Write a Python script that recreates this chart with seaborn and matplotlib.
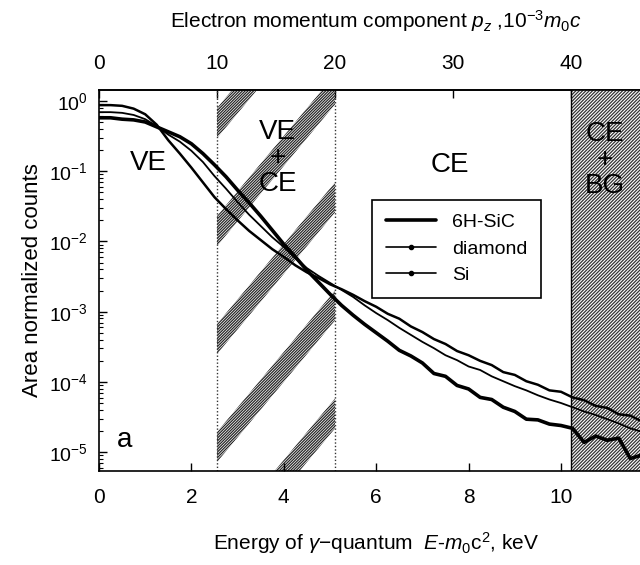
import numpy as np
import pandas as pd
import matplotlib
matplotlib.use("Agg")
import matplotlib.pyplot as plt
from matplotlib.lines import Line2D
from matplotlib.patches import Polygon
from matplotlib.ticker import LogLocator, NullFormatter
import seaborn as sns

# Energia do gama (keV) e contagens normalizadas (log10)
energy_kev = [0.0, 0.25, 0.5, 0.75, 1.0, 1.25, 1.5, 1.75, 2.0, 2.25, 2.5, 2.75,
              3.0, 3.25, 3.5, 3.75, 4.0, 4.25, 4.5, 4.75, 5.0, 5.25, 5.5, 5.75,
              6.0, 6.25, 6.5, 6.75, 7.0, 7.25, 7.5, 7.75, 8.0, 8.25, 8.5, 8.75,
              9.0, 9.25, 9.5, 9.75, 10.0, 10.25, 10.5, 10.75, 11.0, 11.25, 11.5, 11.75]

sic_log10 = [-0.24, -0.24, -0.26, -0.27, -0.30, -0.37, -0.44, -0.51, -0.61, -0.75, -0.91, -1.08,
             -1.27, -1.45, -1.64, -1.84, -2.04, -2.22, -2.41, -2.58, -2.75, -2.91, -3.05, -3.18,
             -3.30, -3.42, -3.55, -3.63, -3.73, -3.88, -3.92, -4.05, -4.10, -4.22, -4.25, -4.36,
             -4.42, -4.53, -4.54, -4.60, -4.62, -4.66, -4.86, -4.77, -4.83, -4.80, -5.09, -5.04]

diamond_log10 = [-0.16, -0.16, -0.17, -0.20, -0.26, -0.36, -0.48, -0.58, -0.71, -0.87, -1.07, -1.25,
                 -1.44, -1.62, -1.78, -1.94, -2.08, -2.24, -2.38, -2.49, -2.59, -2.69, -2.79, -2.91,
                 -3.02, -3.12, -3.23, -3.33, -3.43, -3.52, -3.62, -3.69, -3.78, -3.83, -3.92, -3.99,
                 -4.06, -4.12, -4.19, -4.25, -4.30, -4.36, -4.42, -4.47, -4.53, -4.59, -4.66, -4.71]

si_log10 = [-0.06, -0.06, -0.07, -0.11, -0.19, -0.34, -0.56, -0.75, -0.95, -1.16, -1.37, -1.54,
            -1.70, -1.85, -1.98, -2.11, -2.22, -2.34, -2.44, -2.52, -2.61, -2.68, -2.76, -2.85,
            -2.93, -3.03, -3.10, -3.21, -3.29, -3.39, -3.46, -3.56, -3.62, -3.70, -3.76, -3.86,
            -3.90, -3.99, -4.04, -4.12, -4.14, -4.22, -4.26, -4.34, -4.37, -4.46, -4.48, -4.56]

materials = ["6H-SiC", "diamond", "Si"]
line_widths = [2.6, 1.3, 1.8]

# limites das regioes (keV) e eixo superior p_z (10^-3 m0c)
KEV_PER_PZ = 0.2555
ve_ce_start, ve_ce_end = 10 * KEV_PER_PZ, 20 * KEV_PER_PZ
bg_start = 40 * KEV_PER_PZ
pz_ticks = [0, 10, 20, 30, 40]
energy_ticks = [0, 2, 4, 6, 8, 10]

X_MAX = 12.0
PX_PER_KEV = 46.2
W_PX, H_PX = X_MAX * PX_PER_KEV, 381

sns.set_style("ticks")
plt.rcParams["font.family"] = ["Liberation Sans", "DejaVu Sans"]
plt.rcParams["mathtext.fontset"] = "custom"
plt.rcParams["mathtext.rm"] = "Liberation Sans"
plt.rcParams["mathtext.it"] = "Liberation Sans:italic"
plt.rcParams["mathtext.bf"] = "Liberation Sans:bold"
plt.rcParams["hatch.linewidth"] = 0.9
for key in ("text.color", "axes.labelcolor", "xtick.color", "ytick.color", "axes.edgecolor"):
    plt.rcParams[key] = "black"

df = pd.concat([
    pd.DataFrame({"energy": energy_kev, "counts": 10 ** np.array(vals), "material": name})
    for name, vals in zip(materials, [sic_log10, diamond_log10, si_log10])
])

fig = plt.figure(figsize=(6.4, 5.65), dpi=100)
ax = fig.add_axes([99 / 640, 1 - 471 / 565, W_PX / 640, H_PX / 565])

# regiao CE + BG (hachura densa)
ax.axvspan(bg_start, X_MAX, facecolor="white", edgecolor="0.2", hatch="//////////", lw=0, zorder=0.5)
ax.axvline(bg_start, color="black", lw=1.0, zorder=0.6)

# regiao VE + CE: faixas diagonais
xf0, xf1 = ve_ce_start / X_MAX, ve_ce_end / X_MAX
slope = 1.2 * W_PX / H_PX
band_h = 30 / H_PX
for k in range(5):
    y0 = (333 - 108 * k) / H_PX
    y1 = y0 + slope * (xf1 - xf0)
    band = Polygon([(xf0, y0), (xf1, y1), (xf1, y1 + band_h), (xf0, y0 + band_h)],
                   closed=True, transform=ax.transAxes, facecolor="none",
                   edgecolor="0.15", hatch="////////////", lw=0, zorder=0.5)
    ax.add_patch(band)
for xv in (ve_ce_start, ve_ce_end):
    ax.axvline(xv, color="0.2", lw=1.0, ls=(0, (1, 1.5)), zorder=0.6)

for name, lw in zip(materials, line_widths):
    sns.lineplot(data=df[df["material"] == name], x="energy", y="counts",
                 color="black", linewidth=lw, ax=ax, zorder=3)

ax.set_yscale("log")
ax.set_xlim(0, X_MAX)
ax.set_ylim(5.4e-6, 1.43)
ax.set_xticks(energy_ticks)
ax.yaxis.set_major_locator(LogLocator(base=10, numticks=10))
ax.yaxis.set_minor_locator(LogLocator(base=10, subs=np.arange(2, 10), numticks=10))
ax.yaxis.set_minor_formatter(NullFormatter())
ax.tick_params(axis="x", direction="in", length=6, width=1, labelsize=15, pad=12)
ax.tick_params(axis="y", which="major", direction="in", length=6, width=1, labelsize=14, pad=8)
ax.tick_params(axis="y", which="minor", direction="in", length=3, width=0.8)
for s in ax.spines.values():
    s.set_linewidth(1.2)
ax.spines["right"].set_visible(False)

ax.set_xlabel(r"Energy of $\gamma$$-$quantum  $E$-$m_0$c$^2$, keV", fontsize=15, labelpad=17)
ax.set_ylabel("Area normalized counts", fontsize=16, labelpad=4)

secax = ax.secondary_xaxis("top", functions=(lambda e: e / KEV_PER_PZ, lambda p: p * KEV_PER_PZ))
secax.set_xticks(pz_ticks)
secax.tick_params(direction="in", length=6, width=1, labelsize=15, pad=12)
secax.spines["top"].set_linewidth(1.2)
secax.set_xlabel(r"Electron momentum component $p_z$ ,10$^{-3}$$m_0c$", fontsize=15, labelpad=19)

# rotulos das regioes
ax.text(1.06, 10 ** -0.88, "VE", fontsize=20, ha="center", va="center", zorder=4)
ax.text(3.87, 10 ** -0.81, "VE\n+\nCE", fontsize=20, ha="center", va="center",
        linespacing=1.0, zorder=4)
ax.text(7.6, 10 ** -0.91, "CE", fontsize=20, ha="center", va="center", zorder=4)
ax.text(10.95, 10 ** -0.84, "CE\n+\nBG", fontsize=20, ha="center", va="center",
        linespacing=1.0, zorder=4)
ax.text(0.56, 10 ** -4.83, "a", fontsize=20, ha="center", va="center", zorder=4)

handles = [Line2D([], [], color="black", lw=2.6),
           Line2D([], [], color="black", lw=1.2, marker="o", markersize=3),
           Line2D([], [], color="black", lw=1.2, marker="o", markersize=3)]
leg = ax.legend(handles, materials, loc="upper left",
                bbox_to_anchor=((372 - 99) / W_PX, (471 - 200) / H_PX), borderaxespad=0,
                frameon=True, fancybox=False, edgecolor="black", framealpha=1,
                fontsize=14, handlelength=2.6, borderpad=0.7, labelspacing=0.45)
leg.get_frame().set_linewidth(1.2)
leg.set_zorder(5)

plt.savefig("out.png", dpi=100)
